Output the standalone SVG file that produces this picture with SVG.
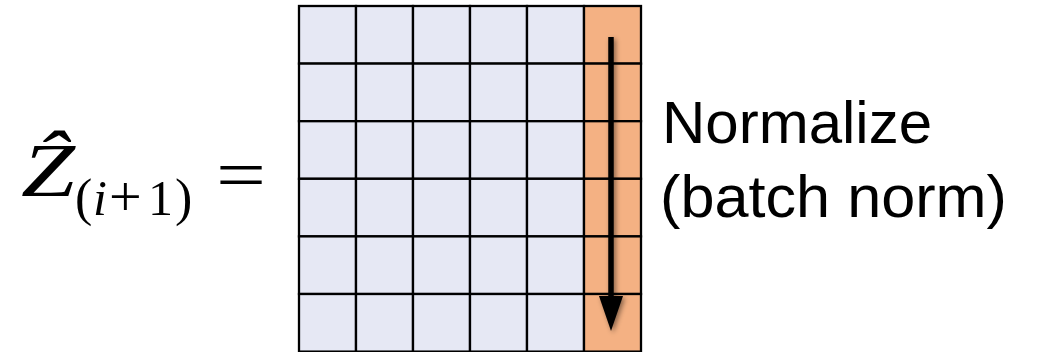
<svg xmlns="http://www.w3.org/2000/svg" width="1041" height="352" viewBox="0 0 1041 352">
<style>
.cell{fill:#E6E8F4;stroke:#000;stroke-width:2.3}
.hl{fill:#F4B183;stroke:#000;stroke-width:2.3}
.lbl{font-family:"Liberation Sans",Arial,sans-serif;font-size:59px;fill:#000}
.math{font-family:"Liberation Serif","Times New Roman",serif;fill:#000}
</style>
<defs>
<marker id="head" markerUnits="userSpaceOnUse" markerWidth="36" markerHeight="24" refX="0" refY="12" orient="auto">
<path d="M0,0 L35,12 L0,24 Z" fill="#000"/>
</marker>
<filter id="shadow" filterUnits="userSpaceOnUse" x="560" y="0" width="110" height="352">
<feDropShadow dx="2" dy="2" stdDeviation="2.5" flood-color="#000" flood-opacity="0.45"/>
</filter>
</defs>
<rect width="1041" height="352" fill="#fff"/>
<g id="equation">
<text class="math" font-size="50"><tspan x="21" y="196" font-size="76" font-style="italic" textLength="54" lengthAdjust="spacingAndGlyphs">Ẑ</tspan><tspan x="75" y="215" font-size="52">(</tspan><tspan x="93" y="215" font-style="italic">i</tspan><tspan x="109" y="216" font-size="58">+</tspan><tspan x="148" y="215">1</tspan><tspan x="175" y="215" font-size="52">)</tspan></text>
<text class="math" x="216" y="199" font-size="72" textLength="50" lengthAdjust="spacingAndGlyphs">=</text>
</g>
<g id="matrix">
<rect class="cell" x="299" y="6" width="57" height="57.6"/><rect class="cell" x="356" y="6" width="57" height="57.6"/><rect class="cell" x="413" y="6" width="57" height="57.6"/><rect class="cell" x="470" y="6" width="57" height="57.6"/><rect class="cell" x="527" y="6" width="57" height="57.6"/><rect class="hl" x="584" y="6" width="57" height="57.6"/>
<rect class="cell" x="299" y="63.6" width="57" height="57.6"/><rect class="cell" x="356" y="63.6" width="57" height="57.6"/><rect class="cell" x="413" y="63.6" width="57" height="57.6"/><rect class="cell" x="470" y="63.6" width="57" height="57.6"/><rect class="cell" x="527" y="63.6" width="57" height="57.6"/><rect class="hl" x="584" y="63.6" width="57" height="57.6"/>
<rect class="cell" x="299" y="121.2" width="57" height="57.6"/><rect class="cell" x="356" y="121.2" width="57" height="57.6"/><rect class="cell" x="413" y="121.2" width="57" height="57.6"/><rect class="cell" x="470" y="121.2" width="57" height="57.6"/><rect class="cell" x="527" y="121.2" width="57" height="57.6"/><rect class="hl" x="584" y="121.2" width="57" height="57.6"/>
<rect class="cell" x="299" y="178.8" width="57" height="57.6"/><rect class="cell" x="356" y="178.8" width="57" height="57.6"/><rect class="cell" x="413" y="178.8" width="57" height="57.6"/><rect class="cell" x="470" y="178.8" width="57" height="57.6"/><rect class="cell" x="527" y="178.8" width="57" height="57.6"/><rect class="hl" x="584" y="178.8" width="57" height="57.6"/>
<rect class="cell" x="299" y="236.4" width="57" height="57.6"/><rect class="cell" x="356" y="236.4" width="57" height="57.6"/><rect class="cell" x="413" y="236.4" width="57" height="57.6"/><rect class="cell" x="470" y="236.4" width="57" height="57.6"/><rect class="cell" x="527" y="236.4" width="57" height="57.6"/><rect class="hl" x="584" y="236.4" width="57" height="57.6"/>
<rect class="cell" x="299" y="294" width="57" height="57.6"/><rect class="cell" x="356" y="294" width="57" height="57.6"/><rect class="cell" x="413" y="294" width="57" height="57.6"/><rect class="cell" x="470" y="294" width="57" height="57.6"/><rect class="cell" x="527" y="294" width="57" height="57.6"/><rect class="hl" x="584" y="294" width="57" height="57.6"/>
</g>
<g id="connectors" filter="url(#shadow)">
<line x1="611" y1="37" x2="611" y2="296" stroke="#000" stroke-width="5.5" marker-end="url(#head)"/>
</g>
<g id="label">
<text class="lbl" x="662" y="143" textLength="270" lengthAdjust="spacingAndGlyphs">Normalize</text>
<text class="lbl" x="660" y="217" textLength="347" lengthAdjust="spacingAndGlyphs">(batch norm)</text>
</g>
</svg>
